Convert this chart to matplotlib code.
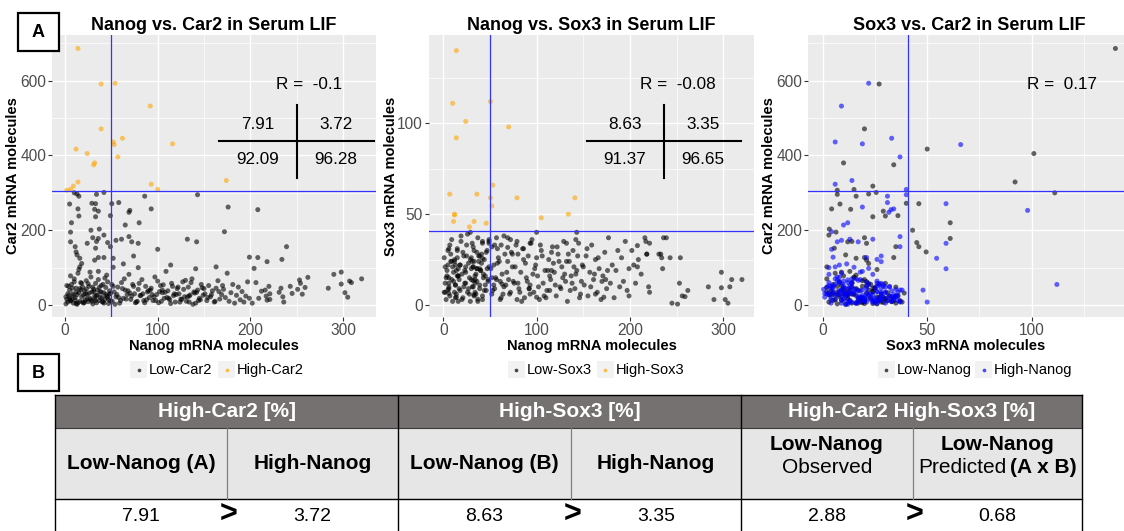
import numpy as np
import matplotlib
matplotlib.use("Agg")
import matplotlib.pyplot as plt
from matplotlib.patches import Rectangle

plt.rcParams['font.family'] = ['Liberation Sans', 'DejaVu Sans']

# ---------------- single-cell mRNA counts: Nanog, Car2, Sox3 ----------------
# cells with high Car2
hc_nanog = [14, 39, 54, 39, 92, 62, 52, 53, 57, 116, 12, 24, 32, 31, 14, 9, 2, 6, 93, 100, 174]
hc_car2 = [686, 591, 593, 471, 532, 446, 436, 429, 396, 431, 417, 405, 380, 375, 329, 318, 307, 309, 323, 309, 333]
hc_sox3 = [140, 27, 22, 20, 9, 33, 6, 66, 37, 19, 50, 101, 10, 34, 92, 24, 7, 15, 6, 40, 14]

# cells with high Sox3 (Car2 below threshold)
hs_nanog = [10, 50.5, 70, 7, 36, 50.5, 79, 141, 52, 12, 11, 33, 46, 28, 134, 105]
hs_car2 = [300, 55, 253, 220, 178, 271, 165, 97, 125, 142, 156, 271, 167, 200, 8, 40]
hs_sox3 = [111, 112, 98, 61, 61, 59, 59, 59, 54.5, 49.5, 46, 46, 45, 43, 50, 48]

# cells with intermediate Car2 (100-305)
mid_nanog = [15, 34, 42, 13, 5, 29, 14, 32, 36, 15,
             33, 49, 6, 37, 24, 30, 42, 34, 33, 6,
             13, 16, 32, 36, 42, 49, 18, 16,
             86, 143, 58, 69, 93, 176, 208, 80, 65, 172,
             69, 55, 61, 72, 132, 142, 100, 239, 74, 199,
             208, 234, 218, 63, 114, 163, 52, 79]
mid_car2 = [291, 296, 301, 297, 270, 272, 257, 256, 251, 238,
            236, 239, 195, 203, 165, 180, 187, 170, 152, 169,
            134, 125, 120, 127, 127, 156, 111, 102,
            291, 295, 274, 248, 257, 262, 255, 220, 214, 196,
            183, 173, 176, 169, 176, 169, 149, 156, 131, 128,
            127, 122, 116, 110, 107, 102, 101, 100]
mid_sox3 = [16, 7, 25.6, 22, 8.3, 40, 4.3, 13.4, 29, 30,
            24, 36, 6.4, 3.2, 21, 20, 3, 14, 5.6, 12,
            11, 16, 21, 20, 34, 35, 22, 2,
            31, 40, 31, 31.7, 34, 19, 32.7, 12, 10, 4.3,
            37, 9, 13, 7, 24, 17, 4.3, 37, 28, 5,
            21, 26, 28, 11.5, 8, 6, 15, 3]

# low-Nanog cells, Car2 below 100
low_nanog = [1, 2, 3, 4, 5, 6, 7, 8, 9, 10,
             11, 12, 13, 14, 15, 16, 17, 18, 19, 20,
             21, 22, 23, 24, 25, 26, 27, 28, 29, 30,
             31, 32, 33, 34, 35, 36, 37, 38, 39, 40,
             41, 42, 43, 44, 45, 46, 47, 48, 49, 2,
             3, 5, 6, 8, 9, 11, 12, 14, 15, 17,
             18, 20, 21, 23, 24, 26, 27, 29, 30, 32,
             33, 35, 36, 38, 39, 41, 42, 44, 45, 47,
             48, 1, 4, 7, 10, 13, 16, 19, 22, 25,
             28, 31, 34, 37, 40, 43, 46, 49, 6, 12]
low_car2 = [3, 15, 8, 25, 40, 12, 55, 30, 5, 70,
            20, 45, 2, 85, 33, 10, 60, 22, 48, 5,
            38, 14, 65, 28, 9, 50, 18, 75, 35, 3,
            42, 17, 58, 6, 26, 90, 12, 36, 52, 20,
            8, 33, 15, 47, 24, 62, 4, 29, 11, 52,
            30, 18, 78, 45, 25, 13, 35, 6, 95, 40,
            58, 27, 7, 43, 16, 32, 88, 10, 48, 24,
            12, 40, 68, 20, 34, 55, 5, 28, 80, 15,
            38, 22, 50, 16, 62, 28, 44, 8, 30, 57,
            14, 36, 26, 47, 9, 72, 21, 31, 11, 4]
low_sox3 = [7, 12, 3, 16, 22, 9, 5, 28, 14, 2,
            18, 25, 11, 6, 31, 20, 14, 8, 35, 17,
            4, 27, 19, 12, 33, 7, 23, 15, 2, 26,
            10, 21, 30, 16, 6, 13, 37, 24, 9, 19,
            28, 5, 17, 25, 11, 8, 20, 14, 34, 21,
            15, 30, 10, 24, 36, 13, 7, 19, 26, 9,
            22, 3, 29, 12, 18, 39, 9, 25, 14, 32,
            5, 17, 20, 27, 11, 23, 35, 8, 16, 30,
            13, 26, 19, 33, 21, 4, 16, 38, 10, 27,
            6, 24, 12, 2, 19, 15, 29, 21, 31, 24]

# high-Nanog cells, Car2 below 100
high_nanog = [51, 53, 55, 57, 59, 61, 63, 65, 67, 69,
              71, 73, 75, 77, 79, 81, 83, 85, 87, 89,
              91, 93, 95, 97, 99, 101, 103, 105, 107, 109,
              111, 113, 115, 117, 119, 121, 123, 125, 127, 129,
              131, 133, 135, 137, 139, 141, 143, 145, 147, 149,
              151, 153, 155, 157, 159, 161, 163, 165, 167, 169,
              171, 173, 175, 177, 179, 181, 183, 185, 187, 189,
              191, 193, 195, 197, 199, 52, 56, 60, 64, 68,
              72, 76, 80, 84, 88, 92, 96, 100, 104, 108,
              112, 116, 120, 124, 128, 132, 136, 140, 144, 148,
              54, 58, 62, 66, 70, 74, 78, 82, 86, 90,
              94, 98, 102, 106, 110, 114, 118, 122, 126, 130,
              134, 138, 142, 146, 150, 154, 158, 162, 166, 170]
high_car2 = [10, 35, 22, 48, 5, 60, 18, 40, 28, 82,
             15, 55, 30, 8, 42, 25, 68, 12, 50, 35,
             20, 45, 12, 75, 28, 6, 52, 33, 18, 90,
             38, 14, 58, 25, 8, 44, 30, 16, 62, 22,
             10, 48, 27, 70, 35, 5, 40, 18, 55, 26,
             30, 12, 52, 22, 38, 8, 45, 65, 16, 28,
             42, 20, 85, 10, 33, 55, 5, 26, 48, 14,
             36, 8, 24, 62, 18, 50, 28, 12, 70, 38,
             24, 6, 58, 30, 14, 40, 22, 64, 10, 34,
             18, 50, 28, 8, 42, 22, 60, 32, 12, 46,
             2, 20, 44, 16, 32, 50, 10, 26, 6, 38,
             28, 12, 36, 54, 20, 4, 30, 48, 15, 66,
             24, 2, 34, 14, 44, 20, 28, 10, 36, 52]
high_sox3 = [20, 8, 33, 14, 26, 3, 17, 38, 11, 24,
             6, 29, 13, 21, 35, 9, 18, 31, 4, 15,
             27, 11, 36, 7, 22, 16, 3, 30, 12, 19,
             8, 25, 14, 32, 18, 5, 28, 10, 21, 35,
             13, 2, 24, 16, 30, 9, 19, 34, 6, 22,
             11, 27, 5, 18, 33, 14, 25, 7, 20, 3,
             16, 29, 9, 37, 12, 22, 4, 19, 30, 10,
             26, 13, 35, 8, 20, 32, 15, 24, 6, 18,
             36, 12, 28, 2, 23, 9, 17, 26, 33, 5,
             19, 29, 11, 24, 15, 34, 8, 21, 27, 13,
             11, 23, 4, 28, 14, 21, 33, 7, 25, 13,
             34, 20, 10, 27, 4, 16, 23, 32, 9, 17,
             28, 12, 36, 4, 21, 31, 10, 17, 26, 13]

# very high Nanog tail
tail_nanog = [204, 212, 216, 217, 221, 218, 220, 221, 231, 235,
              233, 236, 202, 206, 209, 243, 245, 253, 254, 256,
              259, 251, 262, 284, 290, 298, 298, 302, 305, 307,
              309, 320]
tail_car2 = [98, 37, 40, 24, 15, 13, 50, 30, 34, 22,
             45, 8, 5, 60, 18, 50, 31, 67, 58, 29,
             47, 42, 74, 45, 82, 88, 56, 33, 21, 64,
             60, 70]
tail_sox3 = [22, 17, 37, 35, 34, 28, 10, 7, 28, 20,
             28, 37, 30, 12, 25, 26, 1, 12, 26, 5,
             4.6, 0.5, 8, 10, 3, 18, 9.5, 3, 1, 10,
             14, 14]

# gating thresholds, correlations and quadrant percentages
nanog_cut, car2_cut, sox3_cut = 50, 305, 41
r_values = ["-0.1", "-0.08", "0.17"]
quad_car2 = ["7.91", "3.72", "92.09", "96.28"]
quad_sox3 = ["8.63", "3.35", "91.37", "96.65"]
table_groups = ["High-Car2 [%]", "High-Sox3 [%]", "High-Car2 High-Sox3 [%]"]
table_values = ["7.91", "3.72", "8.63", "3.35", "2.88", "0.68"]

nanog = np.array(hc_nanog + hs_nanog + mid_nanog + low_nanog + high_nanog + tail_nanog, float)
car2 = np.array(hc_car2 + hs_car2 + mid_car2 + low_car2 + high_car2 + tail_car2, float)
sox3 = np.array(hc_sox3 + hs_sox3 + mid_sox3 + low_sox3 + high_sox3 + tail_sox3, float)

W, H = 1124, 531
fig = plt.figure(figsize=(W / 100, H / 100), dpi=100)


def px_axes(x0, y0, x1, y1):
    return fig.add_axes([x0 / W, 1 - y1 / H, (x1 - x0) / W, (y1 - y0) / H])


def style(ax, xmaj, xmin, ymaj, ymin, xlim, ylim):
    ax.set_facecolor('#EBEBEB')
    for s in ax.spines.values():
        s.set_visible(False)
    ax.set_xlim(*xlim)
    ax.set_ylim(*ylim)
    ax.set_xticks(xmaj)
    ax.set_xticks(xmin, minor=True)
    ax.set_yticks(ymaj)
    ax.set_yticks(ymin, minor=True)
    ax.grid(which='major', color='white', lw=1.0)
    ax.grid(which='minor', color='white', lw=0.5)
    ax.set_axisbelow(True)
    ax.tick_params(which='major', length=2.8, width=0.8, color='#333333',
                   labelsize=11.2, labelcolor='#4D4D4D', pad=1.5)
    ax.tick_params(which='minor', length=0)


BLACK = '#000000'
ORANGE = '#FFA500'
BLUE = '#0000FF'
LINE_BLUE = '#3333FF'

ax1 = px_axes(52, 35, 376, 317)
ax2 = px_axes(429, 35, 754, 317)
ax3 = px_axes(808, 35, 1124, 317)

style(ax1, [0, 100, 200, 300], [50, 150, 250], [0, 200, 400, 600], [100, 300, 500, 700],
      (-14, 335.5), (-32, 722))
style(ax2, [0, 100, 200, 300], [50, 150, 250], [0, 50, 100], [25, 75, 125],
      (-15.3, 332.9), (-6.6, 148.6))
style(ax3, [0, 50, 100], [25, 75, 125], [0, 200, 400, 600], [100, 300, 500, 700],
      (-7.0, 144.1), (-32, 722))

c1 = [ORANGE if v > car2_cut else BLACK for v in car2]
c2 = [ORANGE if v > sox3_cut else BLACK for v in sox3]
c3 = [BLUE if v > nanog_cut else BLACK for v in nanog]

ax1.scatter(nanog, car2, s=13, c=c1, alpha=0.6, linewidths=0)
ax2.scatter(nanog, sox3, s=13, c=c2, alpha=0.6, linewidths=0)
ax3.scatter(sox3, car2, s=13, c=c3, alpha=0.6, linewidths=0)

ax1.axvline(nanog_cut, color=LINE_BLUE, lw=0.9)
ax1.axhline(car2_cut, color=LINE_BLUE, lw=0.9)
ax2.axvline(nanog_cut, color=LINE_BLUE, lw=0.9)
ax2.axhline(sox3_cut, color=LINE_BLUE, lw=0.9)
ax3.axvline(sox3_cut, color=LINE_BLUE, lw=0.9)
ax3.axhline(car2_cut, color=LINE_BLUE, lw=0.9)

lab = dict(fontsize=10.5, fontweight='bold', color='black')
for ax, xl, yl, yx in [(ax1, 'Nanog mRNA molecules', 'Car2 mRNA molecules', -0.121),
                       (ax2, 'Nanog mRNA molecules', 'Sox3 mRNA molecules', -0.118),
                       (ax3, 'Sox3 mRNA molecules', 'Car2 mRNA molecules', -0.123)]:
    ax.set_xlabel(xl, labelpad=1, **lab)
    ax.set_ylabel(yl, va='center', **lab)
    ax.yaxis.set_label_coords(yx, 0.5)


# correlation text and quadrant crosses
def quadrant(ax, r, vals, vx, hx0, hx1, nx0, nx1, rx):
    ax.text(rx, 0.826, 'R =  ' + r, transform=ax.transAxes, ha='center', va='center',
            fontsize=12.3)
    if vals is None:
        return
    ax.plot([vx, vx], [0.493, 0.752], transform=ax.transAxes, color='black', lw=1.5)
    ax.plot([hx0, hx1], [0.624, 0.624], transform=ax.transAxes, color='black', lw=1.5)
    for (x, y), v in zip([(nx0, 0.684), (nx1, 0.684), (nx0, 0.557), (nx1, 0.557)], vals):
        ax.text(x, y, v, transform=ax.transAxes, ha='center', va='center', fontsize=12.3)


quadrant(ax1, r_values[0], quad_car2, 0.756, 0.515, 0.994, 0.636, 0.877, 0.793)
quadrant(ax2, r_values[1], quad_sox3, 0.723, 0.485, 0.960, 0.603, 0.842, 0.765)
quadrant(ax3, r_values[2], None, 0, 0, 0, 0, 0, 0.804)

# overlay in pixel coordinates for titles, legends, panel tags and the table
ov = fig.add_axes([0, 0, 1, 1], zorder=10)
ov.set_xlim(0, W)
ov.set_ylim(H, 0)
ov.axis('off')

titles = [('Nanog vs. Car2 in Serum LIF', 214), ('Nanog vs. Sox3 in Serum LIF', 591.5),
          ('Sox3 vs. Car2 in Serum LIF', 969)]
for t, x in titles:
    ov.text(x, 26, t, ha='center', va='center', fontsize=13, fontweight='bold')

legends = [
    [(130, 'Low-Car2', BLACK), (218, 'High-Car2', ORANGE)],
    [(507.5, 'Low-Sox3', BLACK), (596.5, 'High-Sox3', ORANGE)],
    [(877.5, 'Low-Nanog', BLACK), (975, 'High-Nanog', BLUE)],
]
for items in legends:
    for x, txt, col in items:
        ov.add_patch(Rectangle((x, 361), 17, 17, facecolor='#F2F2F2', edgecolor='none'))
        ov.scatter([x + 8.5], [369.5], s=7, color=col, alpha=0.7, linewidths=0)
        ov.text(x + 19, 370, txt, ha='left', va='center', fontsize=10.5)

for tag, y0, y1 in [('A', 13, 50.5), ('B', 354, 391)]:
    ov.add_patch(Rectangle((17.5, y0), 41.5, y1 - y0, facecolor='white',
                           edgecolor='black', lw=1.6))
    ov.text(38.2, (y0 + y1) / 2 + 0.5, tag, ha='center', va='center', fontsize=13,
            fontweight='bold')

# summary table
tx0, tx1 = 55, 1082
gx = [55, 398, 741, 1082]
sx = [227, 570.5, 912.5]
ty0, ty1, ty2 = 395, 428, 499
ov.add_patch(Rectangle((tx0, ty0), tx1 - tx0, ty1 - ty0, facecolor='#767171', edgecolor='none'))
ov.add_patch(Rectangle((tx0, ty1), tx1 - tx0, ty2 - ty1, facecolor='#E7E6E6', edgecolor='none'))
ov.plot([tx0, tx1], [ty0, ty0], color='black', lw=1.0)
ov.plot([tx0, tx1], [ty1, ty1], color='#3A3A3A', lw=0.8)
ov.plot([tx0, tx1], [ty2, ty2], color='black', lw=1.0)
for x in gx:
    ov.plot([x, x], [ty0, H], color='black', lw=1.0)
for x in sx:
    ov.plot([x, x], [ty1, ty2], color='#7F7F7F', lw=0.9)

for i, g in enumerate(table_groups):
    ov.text((gx[i] + gx[i + 1]) / 2, 411.5, g, ha='center', va='center', color='white',
            fontsize=15, fontweight='bold')

col_edges = [55, 227, 398, 570.5, 741, 912.5, 1082]
col_centers = [(col_edges[i] + col_edges[i + 1]) / 2 for i in range(6)]
row2 = ['Low-Nanog (A)', 'High-Nanog', 'Low-Nanog (B)', 'High-Nanog']
for i, t in enumerate(row2):
    ov.text(col_centers[i], 463.5, t, ha='center', va='center', fontsize=15, fontweight='bold')
ov.text(col_centers[4], 444, 'Low-Nanog', ha='center', va='center', fontsize=15, fontweight='bold')
ov.text(col_centers[4], 467.5, 'Observed', ha='center', va='center', fontsize=15)
ov.text(col_centers[5], 444, 'Low-Nanog', ha='center', va='center', fontsize=15, fontweight='bold')
ov.text(1006, 467.5, 'Predicted', ha='right', va='center', fontsize=15)
ov.text(1009.5, 467.5, '(A x B)', ha='left', va='center', fontsize=15, fontweight='bold')

for i, v in enumerate(table_values):
    ov.text(col_centers[i], 516.5, v, ha='center', va='center', fontsize=14)
for x in sx:
    ov.text(x + 2, 515, '>', ha='center', va='center', fontsize=22, fontweight='bold')

fig.savefig('out.png', dpi=100)
